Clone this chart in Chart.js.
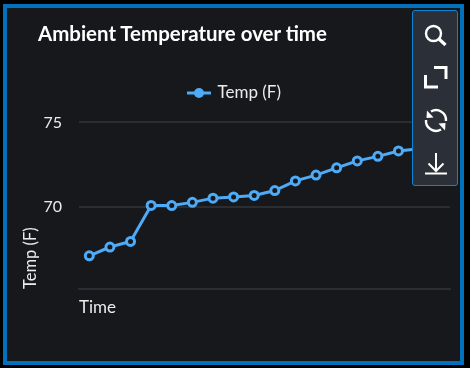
<!DOCTYPE html>
<html>
<head>
<meta charset="utf-8">
<script src="https://cdn.jsdelivr.net/npm/chart.js@4"></script>
<style>
    html, body { margin: 0; padding: 0; background: #000; }
    #wrap { position: relative; width: 470px; height: 368px; overflow: hidden; }
    #panel { position: absolute; left: 3px; top: 4px; width: 453px; height: 353px; background: #16181c; border: 4px solid #0271bb; }
    #chartBox { position: absolute; left: 0; top: 0; width: 470px; height: 368px; }
    #title { position: absolute; left: 38px; top: 21px; font: 700 20.45px Lato, sans-serif; color: #fff; white-space: nowrap; }
    #tools { position: absolute; left: 412px; top: 10px; width: 44px; height: 174px; background: #2b2f37; border: 1px solid #0a84d6; border-radius: 3px; }
    #icons { position: absolute; left: 0; top: 0; }
</style>
</head>
<body>
<div id="wrap">
    <div id="panel"></div>
    <div id="chartBox"><canvas id="tempChart" width="470" height="368"></canvas></div>
    <div id="title">Ambient Temperature over time</div>
    <div id="tools"></div>
    <svg id="icons" width="470" height="368" fill="none" stroke="#fff" stroke-width="2.4">
        <circle cx="433.5" cy="33.5" r="7.5"/>
        <path d="M439 39 L445.5 45" stroke-width="3.2"/>
        <path d="M434 67.5 H446 V79" stroke-width="3"/>
        <path d="M425.5 75 V87 H438" stroke-width="3"/>
        <path d="M431 111.5 A10 10 0 0 1 446 121"/>
        <path d="M441 129.5 A10 10 0 0 1 426 120"/>
        <path d="M427 110.5 L433.5 117.5 L426.5 118 Z" fill="#fff" stroke="none"/>
        <path d="M445 130.5 L438.5 123.5 L445.5 123 Z" fill="#fff" stroke="none"/>
        <path d="M436 153 V171 M428.5 163.5 L436 171 L443.5 163.5" stroke-width="2"/>
        <path d="M425 173.5 H447" stroke-width="2"/>
    </svg>
</div>
<script>
const categories = ["1", "2", "3", "4", "5", "6", "7", "8", "9", "10", "11", "12", "13", "14", "15", "16", "17", "18"];
const tempValues = [67.12, 67.64, 67.97, 70.1, 70.09, 70.28, 70.53, 70.6, 70.69, 70.98, 71.55, 71.89, 72.32, 72.73, 73.0, 73.32, 73.45, 73.8];
const yTicks = [70, 75];

const lineColor = "#4dabf7";
const textColor = "#ebebeb";
const gridColor = "#2a2e33";
const fontName = "Lato, sans-serif";

// legend symbol: short line with a dot on it
const legendMark = document.createElement("canvas");
legendMark.width = 24;
legendMark.height = 12;
const markCtx = legendMark.getContext("2d");
markCtx.fillStyle = lineColor;
markCtx.fillRect(0, 4.5, 24, 3);
markCtx.beginPath();
markCtx.arc(12, 6, 5, 0, Math.PI * 2);
markCtx.fill();

new Chart(document.getElementById("tempChart"), {

    type: "line",

    data: {
        labels: categories,
        datasets: [
            {
                label: "Temp (F)",
                data: tempValues,
                borderColor: lineColor,
                borderWidth: 3,
                tension: 0,
                pointRadius: 4,
                pointBorderWidth: 3,
                pointBorderColor: lineColor,
                pointBackgroundColor: "#16181c",
                pointStyle: "circle"
            }
        ]
    },

    options: {

        responsive: false,
        animation: false,
        clip: false,

        layout: {
            padding: { top: 52, left: 20, right: 20, bottom: 50 }
        },

        plugins: {
            tooltip: { enabled: false },
            legend: {
                display: true,
                position: "top",
                labels: {
                    color: textColor,
                    font: { family: fontName, size: 17 },
                    usePointStyle: true,
                    pointStyleWidth: 20,
                    padding: 32.5,
                    generateLabels: chart => [{
                        text: "Temp (F)",
                        fontColor: textColor,
                        pointStyle: legendMark,
                        lineWidth: 0,
                        datasetIndex: 0
                    }]
                }
            }
        },

        scales: {
            x: {
                type: "category",
                offset: true,
                grid: { display: false },
                border: { display: true, color: gridColor, width: 2 },
                ticks: { display: false },
                title: {
                    display: true,
                    text: "Time",
                    align: "start",
                    color: textColor,
                    font: { family: fontName, size: 17 },
                    padding: 0
                },
                afterFit: scale => { scale.height = 29; }
            },
            y: {
                min: 65.16,
                max: 75.65,
                afterBuildTicks: scale => { scale.ticks = yTicks.map(v => ({ value: v })); },
                grid: { color: gridColor, lineWidth: 2, drawTicks: false },
                border: { display: false },
                ticks: {
                    color: textColor,
                    font: { family: fontName, size: 16 },
                    padding: 17
                },
                title: {
                    display: true,
                    text: "Temp (F)",
                    align: "start",
                    color: textColor,
                    font: { family: fontName, size: 16.5 },
                    padding: 1
                },
                afterFit: scale => { scale.width = 59; }
            }
        }

    }

});
</script>
</body>
</html>
